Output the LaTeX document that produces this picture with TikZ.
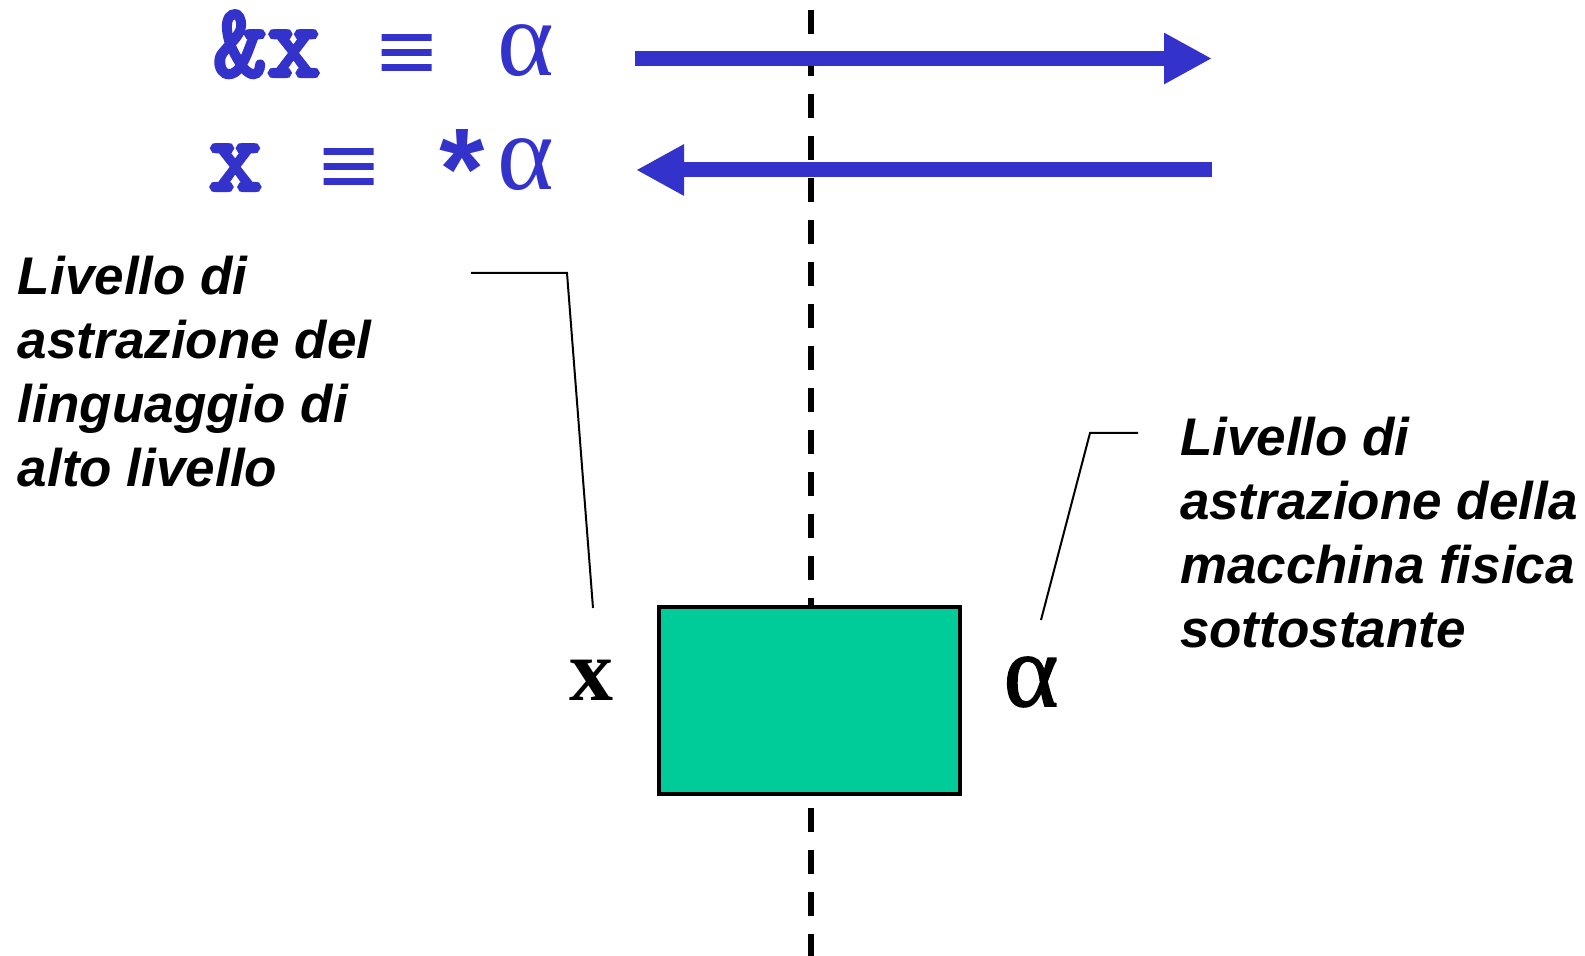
\documentclass[tikz,border=0pt]{standalone}
\usepackage{fontspec}
\setmainfont{Liberation Serif}
\newfontfamily\labfont{Liberation Sans}
\newfontfamily\courfont[FakeBold=4]{Latin Modern Mono}
\newfontfamily\starfont{Liberation Mono}
\newfontfamily\symfont{Liberation Serif}
\newfontfamily\eqfont[FakeBold=1.5]{Liberation Serif}
\usetikzlibrary{arrows.meta}
\definecolor{fblue}{HTML}{3333CC}
\definecolor{fgreen}{HTML}{00CC99}
\begin{document}
\begin{tikzpicture}[x=0.5pt,y=-0.5pt,
  every node/.style={inner sep=0pt,outer sep=0pt},
  lab/.style={font=\labfont\fontsize{26.5pt}{32pt}\selectfont\bfseries\itshape,align=left,anchor=base west},
  cour/.style={font=\courfont\fontsize{52pt}{56pt}\selectfont,text=fblue,anchor=base,text height=27pt},
  sym/.style={font=\symfont\fontsize{54pt}{56pt}\selectfont,text=fblue,anchor=base,text height=27pt},
  eqv/.style={font=\eqfont\fontsize{52pt}{56pt}\selectfont,text=fblue,anchor=base},
  barrow/.style={draw=fblue,line width=7.5pt,-{Triangle[length=24pt,width=24pt]}},
  leader/.style={draw=black,line width=1pt},
  divider/.style={draw=black,line width=3pt,dash pattern=on 12pt off 9pt},
  mem/.style={draw=black,fill=fgreen,line width=2pt,minimum width=150.5pt,minimum height=93pt}]
\useasboundingbox (0,0) rectangle (1585,956);
% vertical dashed divider
\coordinate (dtop) at (811,10);
\coordinate (dbot) at (811,960);
\draw[divider] (dtop) -- (dbot);
% memory cell
\node[mem] (box) at (809.5,700.5) {};
% formulas
\node[cour] (f1a) at (267,76) {\&x};
\node[eqv] (f1b) at (406.5,87) {≡};
\node[sym,anchor=base east] (f1c) at (554,76) {α};
\node[cour] (f2a) at (235.5,190) {x};
\node[eqv] (f2b) at (348.5,201) {≡};
\node[anchor=base east,text=fblue] (f2c) at (554,190) {\raisebox{-12pt}{\starfont\fontsize{58pt}{60pt}\selectfont\bfseries *}{\symfont\fontsize{54pt}{56pt}\selectfont α}};
% arrows
\coordinate (a1s) at (635,58.5);
\coordinate (a1e) at (1212,58.5);
\coordinate (a2s) at (1212,170);
\coordinate (a2e) at (636,170);
\draw[barrow] (a1s) -- (a1e);
\draw[barrow] (a2s) -- (a2e);
% labels near cell
\node[font=\symfont\fontsize{44pt}{50pt}\selectfont\bfseries,anchor=base] (xl) at (591,700) {x};
\node[font=\eqfont\fontsize{52pt}{56pt}\selectfont,anchor=base] (al) at (1031,706) {α};
% explanatory texts
\node[lab] (ltxt) at (18,487) {Livello di\\astrazione del\\linguaggio di\\alto livello};
\node[lab] (rtxt) at (1180,647) {Livello di\\astrazione della\\macchina fisica\\sottostante};
% leader lines
\coordinate (l1) at (471,273);
\coordinate (l2) at (567,273);
\coordinate (l3) at (593,608);
\draw[leader] (l1) -- (l2) -- (l3);
\coordinate (r1) at (1138,433);
\coordinate (r2) at (1090,433);
\coordinate (r3) at (1041,620);
\draw[leader] (r1) -- (r2) -- (r3);
\end{tikzpicture}
\end{document}
